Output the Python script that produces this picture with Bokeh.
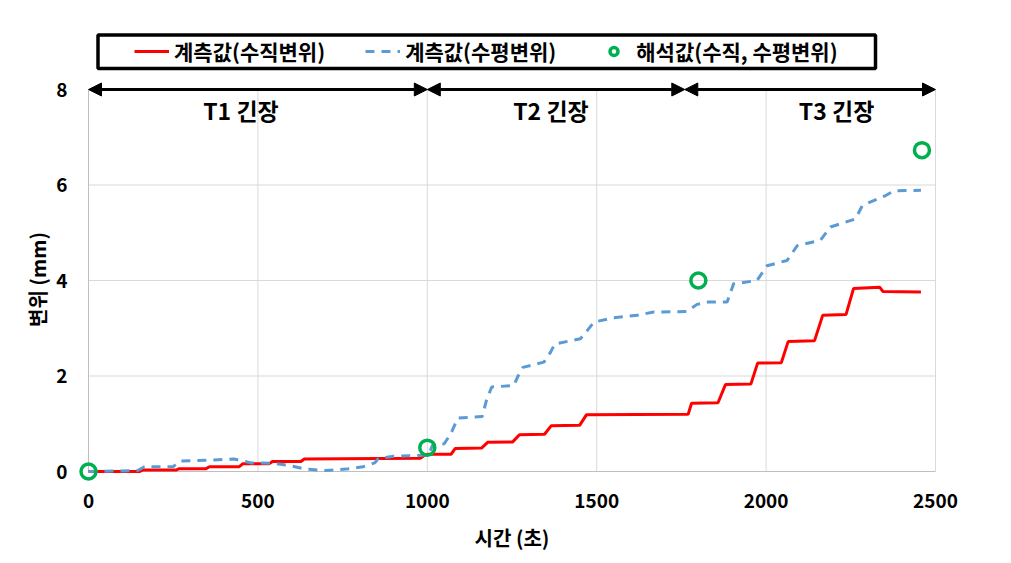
import math
from bokeh.plotting import figure
from bokeh.embed import file_html
from bokeh.resources import INLINE
from bokeh.models import (Legend, LegendItem, Arrow, NormalHead, Label,
                          Range1d, BoxAnnotation)

# ---- data ----
red_t = [0, 150, 160, 258, 268, 347, 357, 445, 455, 533,
         543, 627, 637, 980, 990, 1000, 1070, 1082, 1160, 1178,
         1252, 1272, 1346, 1366, 1450, 1470, 1770, 1780, 1858, 1880,
         1955, 1975, 2045, 2065, 2143, 2167, 2236, 2258, 2335, 2345,
         2457]
red_y = [0, 0, 0.03, 0.03, 0.06, 0.06, 0.1, 0.1, 0.16, 0.16,
         0.21, 0.21, 0.26, 0.28, 0.33, 0.36, 0.36, 0.48, 0.49, 0.61,
         0.62, 0.77, 0.78, 0.96, 0.97, 1.19, 1.2, 1.43, 1.44, 1.82,
         1.83, 2.27, 2.28, 2.72, 2.74, 3.27, 3.29, 3.83, 3.86, 3.77,
         3.76]

blue_t = [0, 145, 165, 250, 270, 400, 430, 480, 545, 590,
          640, 700, 760, 810, 845, 855, 900, 960, 1005, 1015,
          1050, 1070, 1090, 1162, 1175, 1190, 1255, 1268, 1282, 1344,
          1364, 1376, 1452, 1472, 1492, 1550, 1619, 1668, 1766, 1796,
          1830, 1885, 1904, 1973, 2003, 2062, 2092, 2160, 2190, 2264,
          2284, 2353, 2378, 2457]
blue_y = [0, 0.02, 0.1, 0.1, 0.22, 0.25, 0.26, 0.18, 0.17, 0.13,
          0.05, 0.02, 0.05, 0.1, 0.18, 0.27, 0.32, 0.33, 0.35, 0.55,
          0.58, 0.8, 1.12, 1.15, 1.5, 1.77, 1.8, 2.0, 2.18, 2.29,
          2.5, 2.67, 2.78, 2.95, 3.13, 3.22, 3.27, 3.34, 3.35, 3.5,
          3.55, 3.55, 3.93, 4.0, 4.31, 4.42, 4.73, 4.84, 5.12, 5.29,
          5.57, 5.78, 5.88, 5.89]

green_t = [0, 1000, 1800, 2460]
green_y = [0, 0.5, 4.0, 6.73]

x_ticks = [0, 500, 1000, 1500, 2000, 2500]
y_ticks = [0, 2, 4, 6, 8]
x_tick_labels = ["0", "500", "1000", "1500", "2000", "2500"]
y_tick_labels = ["0", "2", "4", "6", "8"]
x_min, x_max = 0, 2500
y_min, y_max = 0, 8

stage_bounds = [0, 1000, 1760, 2500]
stage_labels = ["T1 긴장", "T2 긴장", "T3 긴장"]
stage_label_x = [450, 1365, 2208]
stage_label_y = 7.58

series_labels = ["계측값(수직변위)", "계측값(수평변위)", "해석값(수직, 수평변위)"]
x_title = "시간 (초)"
y_title = "변위 (mm)"

FONT = "Noto Sans CJK KR"
W, H = 1011, 563
# plot-area box in canvas pixels
FL, FR, FT, FB = 88, 935, 89, 471
sx_per = (FR - FL) / (x_max - x_min)
sy_per = (FB - FT) / (y_max - y_min)

# the whole canvas is the frame; axes/ticks are drawn by hand
p = figure(width=W, height=H,
           x_range=Range1d(x_min - FL / sx_per, x_max + (W - FR) / sx_per),
           y_range=Range1d(y_min - (H - FB) / sy_per, y_max + FT / sy_per),
           x_axis_type=None, y_axis_type=None,
           output_backend="svg", toolbar_location=None, min_border=0)
p.outline_line_color = None
p.background_fill_color = "white"
p.border_fill_color = "white"

# gridlines
gx = [t for t in x_ticks if t != x_min]
gy = [t for t in y_ticks if t != y_min]
p.segment(x0=gx, x1=gx, y0=[y_min] * len(gx), y1=[y_max] * len(gx),
          line_color="#d9d9d9", line_width=1)
p.segment(x0=[x_min] * len(gy), x1=[x_max] * len(gy), y0=gy, y1=gy,
          line_color="#d9d9d9", line_width=1)
# axis lines
p.segment(x0=[x_min, x_min], x1=[x_max, x_min], y0=[y_min, y_min],
          y1=[y_min, y_max], line_color="#bfbfbf", line_width=1)

# tick labels
p.text(x=x_ticks, y=[y_min] * len(x_ticks), text=x_tick_labels,
       text_font={"value": FONT}, text_font_style="bold", text_font_size="19px",
       text_color="black", text_align="center", text_baseline="middle",
       y_offset=29)
p.text(x=[x_min] * len(y_ticks), y=y_ticks, text=y_tick_labels,
       text_font={"value": FONT}, text_font_style="bold", text_font_size="19px",
       text_color="black", text_align="right", text_baseline="middle",
       x_offset=-21)

# axis titles
p.add_layout(Label(x=(FL + FR) / 2, y=H - 537, x_units="screen", y_units="screen",
                   text=x_title, text_font=FONT, text_font_style="bold",
                   text_font_size="20px", text_align="center",
                   text_baseline="middle", text_color="black"))
p.add_layout(Label(x=37, y=H - 279, x_units="screen", y_units="screen",
                   text=y_title, text_font=FONT, text_font_style="bold",
                   text_font_size="20px", text_align="center",
                   text_baseline="middle", text_color="black",
                   angle=math.pi / 2))

r_red = p.line(red_t, red_y, line_color="#ff0000", line_width=3)
r_blue = p.line(blue_t, blue_y, line_color="#5b9bd5", line_width=3,
                line_dash="9 7")
r_green = p.scatter(green_t, green_y, marker="circle", size=15,
                    fill_color=None, line_color="#00b050", line_width=3.5)

# stage arrows
for i in range(3):
    p.add_layout(Arrow(
        x_start=stage_bounds[i], y_start=y_max, x_end=stage_bounds[i + 1], y_end=y_max,
        line_color="black", line_width=3,
        start=NormalHead(size=13, fill_color="black", line_color="black"),
        end=NormalHead(size=13, fill_color="black", line_color="black")))
    p.add_layout(Label(
        x=stage_label_x[i], y=stage_label_y, text=stage_labels[i],
        text_font=FONT, text_font_style="bold", text_font_size="23px",
        text_align="center", text_baseline="middle", text_color="black"))

# legend frame
p.add_layout(BoxAnnotation(left=97.5, right=875, top=34.5, bottom=68,
                           left_units="canvas", right_units="canvas",
                           top_units="canvas", bottom_units="canvas",
                           fill_color="white", fill_alpha=1,
                           line_color="black", line_alpha=1, line_width=3.5))

legend = Legend(items=[
    LegendItem(label=series_labels[0], renderers=[r_red]),
    LegendItem(label=series_labels[1], renderers=[r_blue]),
    LegendItem(label=series_labels[2], renderers=[r_green]),
], orientation="horizontal", location=(134, H - 65.5), margin=0, padding=0,
    spacing=40, glyph_width=35, glyph_height=20, label_standoff=5,
    border_line_color=None, background_fill_alpha=0,
    label_text_font=FONT, label_text_font_style="bold",
    label_text_font_size="21px", label_text_color="black")
p.add_layout(legend)

open("out.html", "w").write(file_html(p, INLINE))
